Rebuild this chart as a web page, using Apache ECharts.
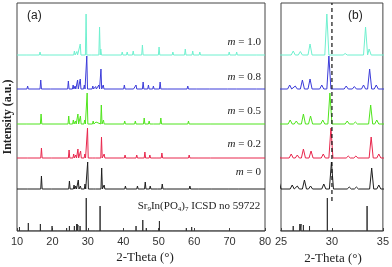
<!DOCTYPE html>
<html><head><meta charset="utf-8">
<script src="https://cdn.jsdelivr.net/npm/echarts@6/dist/echarts.min.js"></script>
<style>html,body{margin:0;padding:0;background:#fff}#c{width:392px;height:267px}</style>
</head><body><div id="c"></div>
<script>
// ---- data: peak positions (2θ, °) and heights (a.u.) ----
const samples = ["m = 0", "m = 0.2", "m = 0.5", "m = 0.8", "m = 1.0"];
const sampleM = ["0", "0.2", "0.5", "0.8", "1.0"];
const offsets = [42, 73, 107, 142, 176];
const colors = ["#1e1e1e", "#e8264c", "#4fe41c", "#3b3bd9", "#6ff0cf"];

const peaksM0 = [[13.1,2],[16.9,13],[20.0,2],[24.8,8],[26.1,4],[26.6,3],[27.3,9],[27.9,3],[29.2,5],[29.95,27],[31.7,2],[32.4,2],[33.9,21],[34.6,4],[40.6,3],[44.0,3],[46.2,7],[47.6,3],[49.8,2],[51.0,5],[52.5,1],[58.8,3],[61.5,1.5],[65.0,1.5],[69.8,1],[72.8,1.5]];
const peaksM02 = [[13.1,2],[16.9,10],[20.0,2],[24.7,8],[26.0,4],[26.6,3],[27.2,9],[27.95,7],[29.15,4],[29.9,30],[31.6,2],[32.35,2],[33.85,21],[34.6,4],[40.5,3],[43.8,3],[46.1,6],[47.5,3],[49.7,2],[50.9,5],[58.6,3],[61.3,1.5],[64.8,1.5],[72.6,1.5]];
const peaksM05 = [[13.0,2],[16.8,10],[19.8,2],[24.6,8],[25.9,4],[26.5,3],[27.2,10],[27.9,8],[29.1,4],[29.8,31],[31.5,3],[32.3,2],[33.8,19],[34.4,4],[40.4,3],[43.4,3],[45.9,6],[47.3,3],[48.7,2],[50.6,6],[58.4,3],[61.0,1.5],[64.7,1.5],[72.3,1.5]];
const peaksM08 = [[13.0,3],[16.7,9],[19.6,2],[24.5,8],[25.85,4],[26.4,3],[27.1,9],[27.85,10],[29.0,4],[29.7,33],[31.4,3],[32.2,2.5],[33.1,4],[33.7,20],[34.35,4],[40.3,4],[41.5,2],[43.1,2],[43.6,4],[45.6,7],[47.1,4],[48.5,3],[50.4,7],[52.8,1.5],[58.2,3],[60.8,2],[64.6,2],[69.6,1.5],[72.1,2],[77.8,1.5]];
const peaksM10 = [[13.0,2],[16.5,3],[19.5,2],[24.3,2],[26.2,4],[26.9,3.5],[27.85,11],[29.5,41],[31.3,1.5],[33.3,28],[33.65,6],[39.7,3],[41.1,3],[42.8,4],[45.4,10],[50.1,8],[54.0,3],[57.5,6],[59.6,4],[61.6,3],[69.9,3],[72.0,3],[77.9,2]];
const patterns = [peaksM0, peaksM02, peaksM05, peaksM08, peaksM10];

// reference ICSD stick pattern
const sticks = [[10.7,4],[13.2,8],[14.8,2],[16.6,7],[19.9,5],[21.5,2],[24.0,3],[24.8,5],[26.2,5],[26.85,7],[26.97,7],[27.2,6],[27.8,5],[28.9,2],[29.55,33],[31.2,2],[32.2,2],[33.45,25],[34.2,1],[36.5,2],[40.3,2],[43.6,5],[45.5,11],[46.5,3],[48.0,2],[50.2,10],[51.5,2],[54.0,2],[57.8,3],[59.3,4],[60.5,2],[64.3,2],[71.0,2],[72.1,2],[78.0,2]];
const refLabel = "Sr9In(PO4)7 ICSD no 59722";
const dashedPos = 30.0;

const xTicksA = [10, 20, 30, 40, 50, 60, 70, 80];
const xTicksB = [25, 30, 35];

// ---- build ----
const HW = 0.2; // peak half-width (drawing only)
function profile(peaks, base, lo, hi, hw) {
  const pts = [[lo, base]];
  peaks.slice().sort((a,b)=>a[0]-b[0]).forEach(p => {
    pts.push([p[0]-hw, base], [p[0], base + p[1]], [p[0]+hw, base]);
  });
  pts.push([hi, base]);
  return pts;
}
const series = [];
[0,1].forEach(g => {
  patterns.forEach((pk, i) => {
    series.push({type:'line', xAxisIndex:g, yAxisIndex:g, data: profile(pk, offsets[i], 10, 80, HW),
      showSymbol:false, symbol:'none', lineStyle:{color:colors[i], width:1}, silent:true, clip:true});
  });
  series.push({type:'line', xAxisIndex:g, yAxisIndex:g, data: profile(sticks, 0, 10, 80, 0),
    showSymbol:false, symbol:'none', lineStyle:{color:'#333', width:1}, silent:true, clip:true});
});
series.push({type:'line', xAxisIndex:1, yAxisIndex:1, data:[[dashedPos,30],[dashedPos,228]],
  showSymbol:false, symbol:'none', lineStyle:{color:'#111', width:1.2, type:[4,3]}, silent:true});

const serif = 'Liberation Serif, Times New Roman, serif';
const sans = 'Liberation Sans, Arial, sans-serif';
const axisCommon = {
  type:'value', axisLine:{show:false}, splitLine:{show:false},
  axisTick:{show:true, inside:true, length:3, lineStyle:{color:'#444'}},
  axisLabel:{fontSize:11, color:'#333', fontFamily:sans, margin:5}
};
const grids = [
  {left:17, top:3, width:248, height:228, show:true, borderColor:'#444', borderWidth:1, backgroundColor:'transparent'},
  {left:281, top:3, width:104, height:228, show:true, borderColor:'#444', borderWidth:1, backgroundColor:'transparent'}
];
const graphic = [
  {type:'text', left:27, top:10, style:{text:'(a)', font:'12px '+sans, fill:'#222'}},
  {type:'text', left:348, top:10, style:{text:'(b)', font:'12px '+sans, fill:'#222'}},
  {type:'text', x:8, y:117, rotation:Math.PI/2, style:{text:'Intensity (a.u.)', font:'bold 12px '+serif, fill:'#222', align:'center', verticalAlign:'middle'}},
  {type:'text', x:145, y:258, style:{text:'2-Theta (°)', font:'13px '+serif, fill:'#222', align:'center', verticalAlign:'middle'}},
  {type:'text', x:333, y:259, style:{text:'2-Theta (°)', font:'13px '+serif, fill:'#222', align:'center', verticalAlign:'middle'}},
  {type:'text', x:199, y:206, style:{text:'{a|Sr}{s|9}{a|In(PO}{s|4}{a|)}{s|7}{a| ICSD no 59722}', align:'center', verticalAlign:'middle',
     rich:{a:{font:'11px '+serif, fill:'#222'}, s:{font:'7px '+serif, fill:'#222', padding:[6,0,0,0]}}}}
];
const labelY = [172, 144, 111, 77, 42];
sampleM.forEach((m, i) => {
  graphic.push({type:'text', x:261, y:labelY[i], style:{text:'{i|m} = '+m, align:'right', verticalAlign:'middle',
    font:'11px '+serif, fill:'#222', rich:{i:{font:'italic 11px '+serif, fill:'#222'}}}});
});

const chart = echarts.init(document.getElementById('c'), null, {renderer:'canvas'});
chart.setOption({
  animation:false,
  grid: grids,
  xAxis: [
    Object.assign({}, axisCommon, {gridIndex:0, min:xTicksA[0], max:xTicksA[xTicksA.length-1], interval:10}),
    Object.assign({}, axisCommon, {gridIndex:1, min:xTicksB[0], max:xTicksB[xTicksB.length-1], interval:5})
  ],
  yAxis: [
    {type:'value', gridIndex:0, min:0, max:228, show:false},
    {type:'value', gridIndex:1, min:0, max:228, show:false}
  ],
  series: series,
  graphic: graphic
});
</script></body></html>
